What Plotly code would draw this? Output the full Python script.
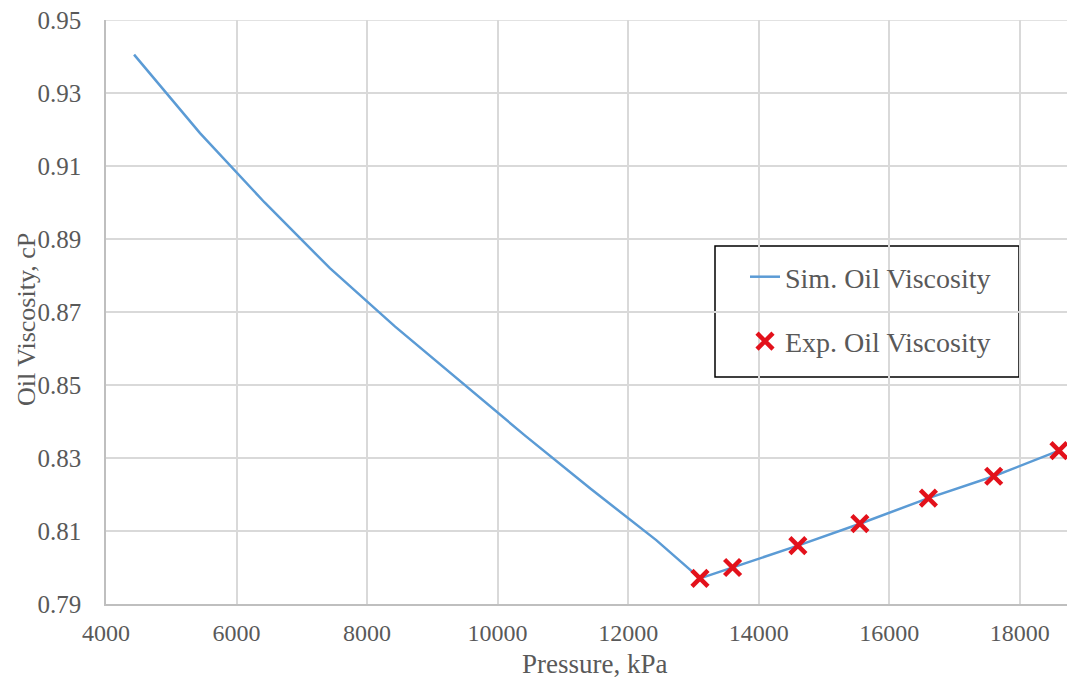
import plotly.graph_objects as go

# Simulated oil viscosity curve (pressure kPa, viscosity cP)
sim_pressure = [4430, 5440, 6430, 7430, 8430, 9430, 10430, 11430, 12430, 13100,
                13600, 14600, 15550, 16600, 17600, 18600]
sim_viscosity = [0.9405, 0.919, 0.900, 0.882, 0.866, 0.851, 0.836, 0.8215, 0.8075, 0.797,
                 0.800, 0.806, 0.812, 0.819, 0.825, 0.832]

# Experimental points
exp_pressure = [13100, 13600, 14600, 15550, 16600, 17600, 18600]
exp_viscosity = [0.797, 0.800, 0.806, 0.812, 0.819, 0.825, 0.832]

x_ticks = [4000, 6000, 8000, 10000, 12000, 14000, 16000, 18000]
y_ticks = [0.79, 0.81, 0.83, 0.85, 0.87, 0.89, 0.91, 0.93, 0.95]

FONT = "Liberation Serif, Times New Roman, DejaVu Serif, serif"
GRAY = "#595959"

# page body has an 8px margin; compensate so that targets are in screen pixels
OFF = 8
W, H = 1075 - OFF, 682 - OFF
L, T = 106 - OFF, 20 - OFF
PR, PB = 1072 - OFF, 604 - OFF
R, B = W - PR, H - PB
pw = PR - L
ph = PB - T

def px_x(p):
    return (p - OFF - L) / pw

def px_y(p):
    return (PB - (p - OFF)) / ph

fig = go.Figure()
fig.add_trace(go.Scatter(
    x=sim_pressure, y=sim_viscosity, mode="lines", name="Sim. Oil Viscosity",
    line=dict(color="#5b9bd5", width=2.5), legendgroup="a"))
fig.add_trace(go.Scatter(
    x=exp_pressure, y=exp_viscosity, mode="markers", name="Exp. Oil Viscosity",
    marker=dict(symbol="x-thin", size=16, line=dict(color="#e3111b", width=4.5),
                color="#e3111b"), legendgroup="b", cliponaxis=False))

fig.update_layout(
    width=W, height=H,
    margin=dict(l=L, r=R, t=T, b=B, autoexpand=False),
    paper_bgcolor="white", plot_bgcolor="white",
    font=dict(family=FONT, color=GRAY, size=24),
    showlegend=True,
    legend=dict(x=px_x(745), y=px_y(252), xanchor="left", yanchor="top",
                bgcolor="rgba(0,0,0,0)", borderwidth=0,
                font=dict(family=FONT, size=28, color=GRAY),
                traceorder="grouped", tracegroupgap=25),
    xaxis=dict(range=[4000, 18800], tickvals=x_ticks, ticktext=[str(v) for v in x_ticks],
               showgrid=True, gridcolor="#d9d9d9", gridwidth=1.5,
               showline=True, linecolor="#bfbfbf", linewidth=1.5,
               ticks="", tickfont=dict(family=FONT, size=24, color=GRAY),
               ticklabelstandoff=6, automargin=False, zeroline=False,
               ticklabeloverflow="allow"),
    yaxis=dict(range=[0.79, 0.95], tickvals=y_ticks, ticktext=[f"{v:.2f}" for v in y_ticks],
               showgrid=True, gridcolor="#d9d9d9", gridwidth=1.5,
               showline=True, linecolor="#bfbfbf", linewidth=1.5,
               ticks="", tickfont=dict(family=FONT, size=25, color=GRAY),
               ticklabelstandoff=18, automargin=False, zeroline=False,
               ticklabeloverflow="allow"),
    annotations=[
        dict(text="Pressure, kPa", xref="paper", yref="paper",
             x=px_x(594), y=px_y(664), xanchor="center", yanchor="middle",
             showarrow=False, font=dict(family=FONT, size=27, color=GRAY)),
        dict(text="Oil Viscosity, cP", xref="paper", yref="paper",
             x=px_x(26), y=px_y(320), xanchor="center", yanchor="middle",
             textangle=-90, showarrow=False, font=dict(family=FONT, size=26, color=GRAY)),
    ],
    shapes=[
        dict(type="line", xref="paper", yref="y", x0=0, x1=1, y0=0.95, y1=0.95,
             line=dict(color="#d9d9d9", width=1.5), layer="below"),
        dict(type="rect", xref="paper", yref="paper",
             x0=px_x(715), x1=px_x(1019), y0=px_y(377), y1=px_y(246),
             line=dict(color="black", width=1.5), fillcolor="white", layer="below"),
    ],
)

fig.write_html("out.html")
